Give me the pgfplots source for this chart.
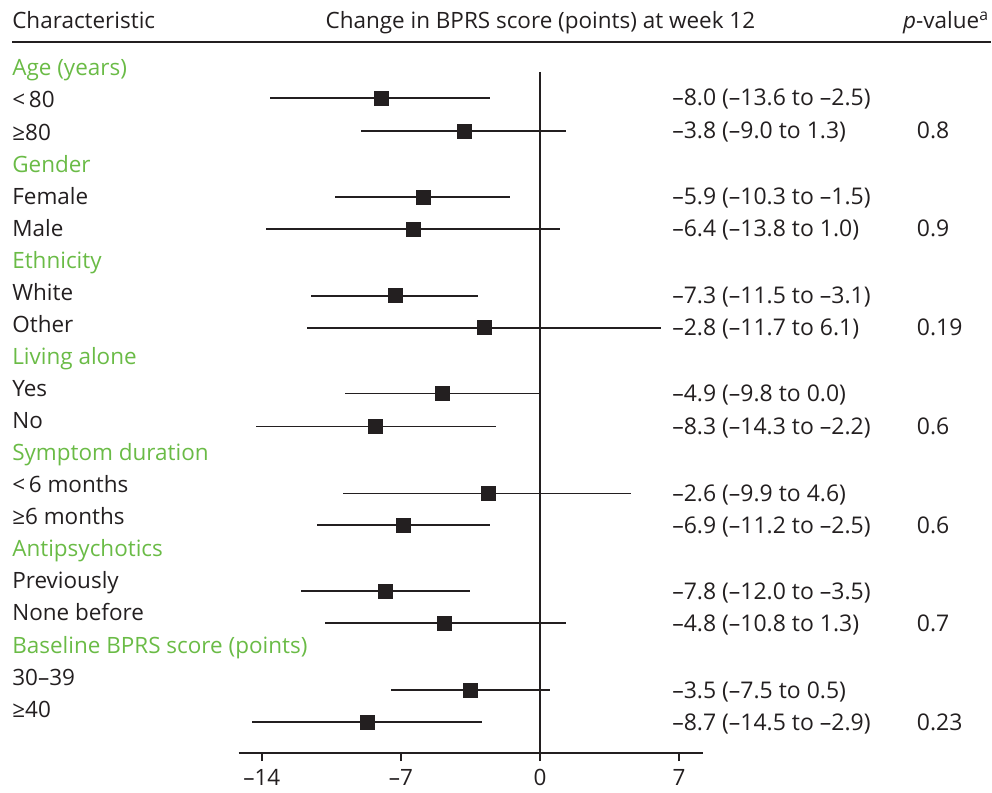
\documentclass[border=0pt]{standalone}
\usepackage{pgfplots}
\pgfplotsset{compat=1.18}
\usepackage{pgfplotstable}
\usepackage{fontspec}
\setmainfont{Open Sans}
\definecolor{grp}{RGB}{106,187,70}
\definecolor{ink}{RGB}{35,31,32}
\newcommand\fs{\fontsize{22.5}{27}\selectfont}
\newcommand\fn{\fontsize{23}{27}\selectfont}

% y = vertical position (px from top), est = estimate, lo/hi = 95% CI
\pgfplotstableread{
y   est   lo     hi
98  -8.0  -13.6  -2.5
131 -3.8  -9.0   1.3
197 -5.9  -10.3  -1.5
229 -6.4  -13.8  1.0
296 -7.3  -11.5  -3.1
328 -2.8  -11.7  6.1
394 -4.9  -9.8   0.0
427 -8.3  -14.3  -2.2
494 -2.6  -9.9   4.6
526 -6.9  -11.2  -2.5
592 -7.8  -12.0  -3.5
624 -4.8  -10.8  1.3
691 -3.5  -7.5   0.5
723 -8.7  -14.5  -2.9
}\forestdata

\begin{document}
\begin{tikzpicture}[txt/.style={inner sep=0pt, font=\fs, text=ink},
                    num/.style={inner sep=0pt, font=\fn, text=ink, anchor=base west}]
\begin{axis}[
  scale only axis,
  width=465pt, height=682pt,
  xmin=-15.16, xmax=8.21,
  ymin=72, ymax=754,
  y dir=reverse,
  clip=false,
  axis x line*=bottom,
  axis y line=none,
  ytick=\empty,
  xtick={-14,-7,0,7},
  xticklabels={–14,–7,0,7},
  xticklabel style={font=\fs, text=ink, inner sep=0pt, yshift=-8pt},
  x axis line style={line width=2.3pt, ink, -},
  tick align=outside,
  major tick length=8pt,
  xtick style={line width=2pt, ink},
]
% bounding area = whole reference canvas
\path (axis cs:-27.17,0) rectangle (axis cs:22.68,793);

% zero line
\addplot[ink, line width=1.7pt] coordinates {(0,72) (0,754)};

% estimates and CIs
\addplot[only marks, mark=square*, mark size=7pt, ink,
  error bars/.cd, x dir=both, x explicit, error mark=none,
  error bar style={line width=1.8pt, ink}]
  table[x=est, y=y,
        x error plus expr=\thisrow{hi}-\thisrow{est},
        x error minus expr=\thisrow{est}-\thisrow{lo}] {\forestdata};

% header
\node[txt, anchor=base west] at (axis cs:-26.56,28.5) {Characteristic};
\node[txt, anchor=base] at (axis cs:0.02,28.5) {Change in BPRS score (points) at week 12};
\node[txt, anchor=base east] at (axis cs:22.58,28.5) {\textit{p}-value\textsuperscript{a}};
\draw[ink, line width=2.6pt] (axis cs:-26.56,42) -- (axis cs:22.68,42);

% left column
\node[txt, anchor=base west, text=grp] at (axis cs:-26.56,76.0) {Age (years)};
\node[txt, anchor=base west] at (axis cs:-26.56,108.1) {<\,80};
\node[txt, anchor=base west] at (axis cs:-26.56,140.2) {≥80};
\node[txt, anchor=base west, text=grp] at (axis cs:-26.56,172.3) {Gender};
\node[txt, anchor=base west] at (axis cs:-26.56,204.4) {Female};
\node[txt, anchor=base west] at (axis cs:-26.56,236.5) {Male};
\node[txt, anchor=base west, text=grp] at (axis cs:-26.56,268.6) {Ethnicity};
\node[txt, anchor=base west] at (axis cs:-26.56,300.7) {White};
\node[txt, anchor=base west] at (axis cs:-26.56,332.8) {Other};
\node[txt, anchor=base west, text=grp] at (axis cs:-26.56,364.9) {Living alone};
\node[txt, anchor=base west] at (axis cs:-26.56,397.0) {Yes};
\node[txt, anchor=base west] at (axis cs:-26.56,429.1) {No};
\node[txt, anchor=base west, text=grp] at (axis cs:-26.56,461.2) {Symptom duration};
\node[txt, anchor=base west] at (axis cs:-26.56,493.3) {<\,6 months};
\node[txt, anchor=base west] at (axis cs:-26.56,525.4) {≥6 months};
\node[txt, anchor=base west, text=grp] at (axis cs:-26.56,557.5) {Antipsychotics};
\node[txt, anchor=base west] at (axis cs:-26.56,589.6) {Previously};
\node[txt, anchor=base west] at (axis cs:-26.56,621.7) {None before};
\node[txt, anchor=base west, text=grp] at (axis cs:-26.56,653.8) {Baseline BPRS score (points)};
\node[txt, anchor=base west] at (axis cs:-26.56,685.9) {30–39};
\node[txt, anchor=base west] at (axis cs:-26.56,718.0) {≥40};

% right column: estimates
\node[num] at (axis cs:6.65,106) {–8.0 (–13.6 to –2.5)};
\node[num] at (axis cs:6.65,139) {–3.8 (–9.0 to 1.3)};
\node[num] at (axis cs:6.65,205) {–5.9 (–10.3 to –1.5)};
\node[num] at (axis cs:6.65,237) {–6.4 (–13.8 to 1.0)};
\node[num] at (axis cs:6.65,304) {–7.3 (–11.5 to –3.1)};
\node[num] at (axis cs:6.65,336) {–2.8 (–11.7 to 6.1)};
\node[num] at (axis cs:6.65,402) {–4.9 (–9.8 to 0.0)};
\node[num] at (axis cs:6.65,435) {–8.3 (–14.3 to –2.2)};
\node[num] at (axis cs:6.65,502) {–2.6 (–9.9 to 4.6)};
\node[num] at (axis cs:6.65,534) {–6.9 (–11.2 to –2.5)};
\node[num] at (axis cs:6.65,600) {–7.8 (–12.0 to –3.5)};
\node[num] at (axis cs:6.65,632) {–4.8 (–10.8 to 1.3)};
\node[num] at (axis cs:6.65,699) {–3.5 (–7.5 to 0.5)};
\node[num] at (axis cs:6.65,731) {–8.7 (–14.5 to –2.9)};

% p-values
\node[num] at (axis cs:18.96,139) {0.8};
\node[num] at (axis cs:18.96,237) {0.9};
\node[num] at (axis cs:18.96,336) {0.19};
\node[num] at (axis cs:18.96,435) {0.6};
\node[num] at (axis cs:18.96,534) {0.6};
\node[num] at (axis cs:18.96,632) {0.7};
\node[num] at (axis cs:18.96,731) {0.23};
\end{axis}
\end{tikzpicture}
\end{document}
